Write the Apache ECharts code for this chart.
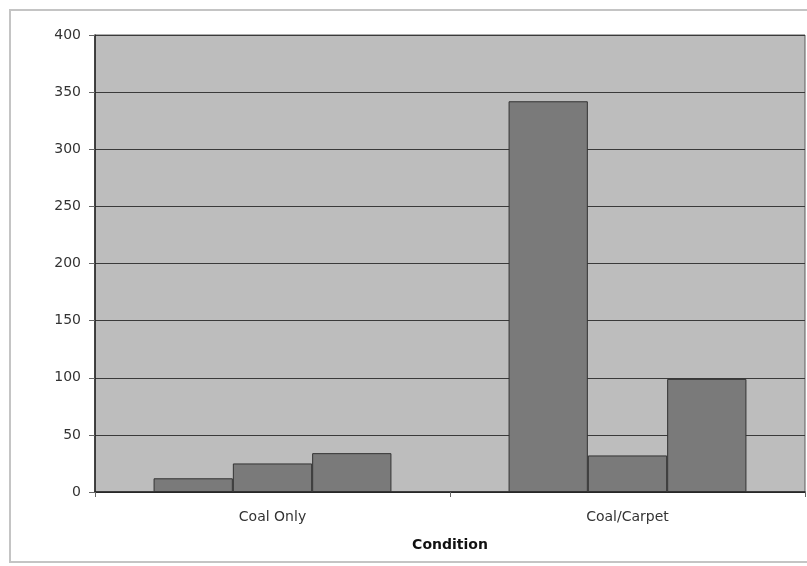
<!DOCTYPE html>
<html>
<head>
<meta charset="utf-8">
<script src="https://cdn.jsdelivr.net/npm/echarts@6/dist/echarts.min.js"></script>
<style>
  html, body { margin: 0; padding: 0; background: #fff; }
  #chart { width: 807px; height: 566px; }
</style>
</head>
<body>
<div id="chart"></div>
<script>
// data
var categories = ['Coal Only', 'Coal/Carpet'];
var seriesA = [12, 342];
var seriesB = [25, 32];
var seriesC = [34, 99];
var yTicks = [0, 50, 100, 150, 200, 250, 300, 350, 400];

var myChart = echarts.init(document.getElementById('chart'));

var barStyle = {
  color: '#7a7a7a',
  borderColor: '#333',
  borderWidth: 1
};

function makeBar(name, values) {
  return {
    name: name,
    type: 'bar',
    data: values,
    barGap: '0%',
    barCategoryGap: '33%',
    itemStyle: barStyle,
    silent: true
  };
}

var option = {
  animation: false,
  backgroundColor: '#fff',
  textStyle: { fontFamily: 'DejaVu Sans' },
  graphic: [{
    type: 'rect',
    shape: { x: 10, y: 10, width: 820, height: 552 },
    style: { fill: 'none', stroke: '#c4c4c4', lineWidth: 2 },
    z: -1
  }],
  grid: {
    left: 95,
    right: 2,
    top: 35,
    bottom: 74,
    show: true,
    backgroundColor: '#bdbdbd',
    borderColor: '#5a5a5a',
    borderWidth: 1
  },
  xAxis: {
    type: 'category',
    data: categories,
    name: 'Condition',
    nameLocation: 'middle',
    nameGap: 46,
    nameTextStyle: { fontSize: 14, fontWeight: 'bold', color: '#111' },
    axisLine: { lineStyle: { color: '#222', width: 1.5 } },
    axisTick: { show: true, length: 5, lineStyle: { color: '#666' } },
    axisLabel: { fontSize: 14, color: '#333', margin: 18 }
  },
  yAxis: {
    type: 'value',
    min: yTicks[0],
    max: yTicks[yTicks.length - 1],
    interval: 50,
    axisLine: { show: true, lineStyle: { color: '#222', width: 1.5 } },
    axisTick: { show: true, length: 6, lineStyle: { color: '#666' } },
    axisLabel: { fontSize: 14, color: '#333', margin: 14 },
    splitLine: { lineStyle: { color: '#3a3a3a', width: 1 } }
  },
  series: [
    makeBar('A', seriesA),
    makeBar('B', seriesB),
    makeBar('C', seriesC)
  ]
};
myChart.setOption(option);
</script>
</body>
</html>
